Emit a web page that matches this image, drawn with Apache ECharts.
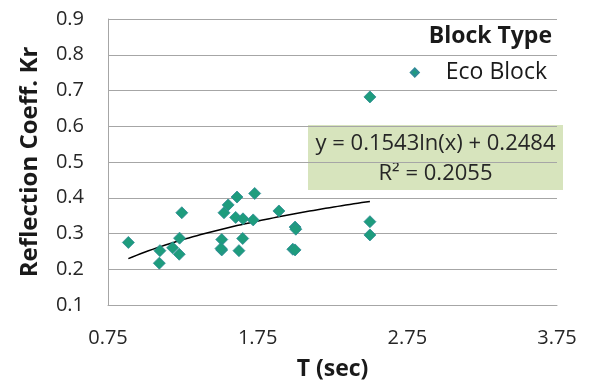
<!DOCTYPE html>
<html>
<head>
<meta charset="utf-8">
<script src="https://cdn.jsdelivr.net/npm/echarts@6/dist/echarts.min.js"></script>
<style>
html,body{margin:0;padding:0;background:#fff;}
#chart{width:590px;height:387px;}
</style>
</head>
<body>
<div id="chart"></div>
<script>
// Data
var periodT = [0.886, 1.093, 1.097, 1.182, 1.226, 1.228, 1.243, 1.510, 1.510, 1.505, 1.525, 1.553, 1.612, 1.603, 1.652, 1.650, 1.625, 1.730, 1.720, 1.892, 2.000, 2.005, 1.985, 2.000, 2.500, 2.500, 2.500];
var reflKr  = [0.275, 0.217, 0.252, 0.260, 0.242, 0.287, 0.358, 0.283, 0.254, 0.258, 0.358, 0.380, 0.402, 0.345, 0.341, 0.286, 0.252, 0.412, 0.338, 0.363, 0.318, 0.312, 0.256, 0.254, 0.682, 0.333, 0.296];
var xTicks = [0.75, 1.75, 2.75, 3.75];
var yTicks = [0.1, 0.2, 0.3, 0.4, 0.5, 0.6, 0.7, 0.8, 0.9];
// Logarithmic trendline shown in the chart: y = a ln(x) + b
var trendA = 0.1543, trendB = 0.2484;
var trendRange = [0.886, 2.5];
var seriesName = 'Eco Block';
var legendTitle = 'Block Type';
var eqLine1 = 'y = 0.1543ln(x) + 0.2484';
var eqLine2 = 'R\u00b2 = 0.2055';

var scatterData = periodT.map(function (t, i) { return [t, reflKr[i]]; });
var trendData = [];
var steps = 60;
for (var i = 0; i <= steps; i++) {
  var x = trendRange[0] + (trendRange[1] - trendRange[0]) * i / steps;
  trendData.push([x, trendA * Math.log(x) + trendB]);
}

var FONT = '"Open Sans", "Noto Sans", sans-serif';
var chart = echarts.init(document.getElementById('chart'), null, {renderer: 'canvas'});
chart.setOption({
  animation: false,
  backgroundColor: '#ffffff',
  textStyle: {fontFamily: FONT},
  grid: {left: 108, right: 33, top: 19, bottom: 82, containLabel: false},
  title: {
    text: legendTitle,
    right: 33, top: 20,
    textStyle: {fontFamily: FONT, fontWeight: 'bold', fontSize: 23, color: '#1a1a1a'}
  },
  legend: {
    data: [{name: seriesName, icon: 'diamond'}],
    right: 38, top: 56,
    itemWidth: 8, itemHeight: 8, itemGap: 10,
    textStyle: {fontFamily: FONT, fontSize: 23, color: '#1a1a1a', padding: [0, 0, 0, 22]}
  },
  xAxis: {
    type: 'value', min: 0.75, max: 3.75,
    name: 'T (sec)', nameLocation: 'middle', nameGap: 53,
    nameTextStyle: {fontFamily: FONT, fontWeight: 'bold', fontSize: 23, color: '#1a1a1a'},
    axisLine: {show: true, lineStyle: {color: '#a6a6a6', width: 1}},
    axisTick: {show: false, customValues: xTicks},
    axisLabel: {customValues: xTicks, margin: 23, fontFamily: FONT, fontSize: 20, color: '#262626',
      formatter: function (v) { return v.toFixed(2); }},
    splitLine: {show: false}
  },
  yAxis: {
    type: 'value', min: 0.1, max: 0.9, interval: 0.1,
    name: 'Reflection Coeff. Kr', nameLocation: 'middle', nameGap: 66,
    nameTextStyle: {fontFamily: FONT, fontWeight: 'bold', fontSize: 24, color: '#1a1a1a'},
    axisLine: {show: true, lineStyle: {color: '#a6a6a6', width: 1}},
    axisTick: {show: false},
    axisLabel: {margin: 24, fontFamily: FONT, fontSize: 20, color: '#262626',
      formatter: function (v) { return v.toFixed(1); }},
    splitLine: {show: true, lineStyle: {color: '#a6a6a6', width: 1}}
  },
  graphic: [{
    type: 'group',
    left: 308, top: 125,
    children: [
      {type: 'rect', shape: {x: 0, y: 0, width: 255, height: 65}, style: {fill: '#d7e4bd'}},
      {type: 'text', x: 127.5, y: 19, style: {text: eqLine1, fontFamily: FONT, fontSize: 22, fill: '#262626', align: 'center', verticalAlign: 'middle'}},
      {type: 'text', x: 127.5, y: 49, style: {text: eqLine2, fontFamily: FONT, fontSize: 22, fill: '#262626', align: 'center', verticalAlign: 'middle'}}
    ]
  }],
  series: [
    {
      name: 'Trend', type: 'line', data: trendData, showSymbol: false, smooth: false,
      lineStyle: {color: '#000000', width: 1.5}, silent: true, z: 3
    },
    {
      name: seriesName, type: 'scatter', data: scatterData,
      symbol: 'diamond', symbolSize: 12,
      itemStyle: {color: '#1e9c7d', borderColor: '#2f8a96', borderWidth: 0.8, opacity: 1},
      z: 4
    }
  ]
});
</script>
</body>
</html>
